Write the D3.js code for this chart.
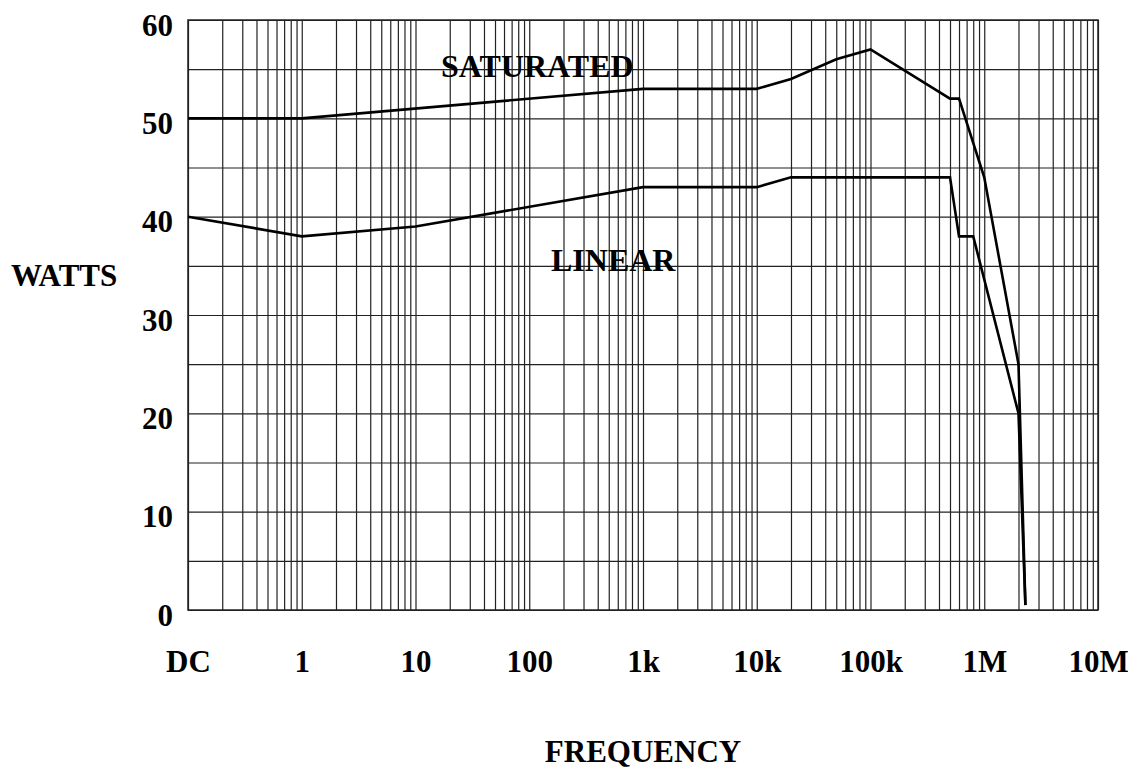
<!DOCTYPE html>
<html>
<head>
<meta charset="utf-8">
<script src="https://cdn.jsdelivr.net/npm/d3@7"></script>
<style>
  body { margin: 0; background: #fff; }
  text { font-family: "Liberation Serif", "Times New Roman", serif; font-weight: bold; fill: #000; }
</style>
</head>
<body>
<div id="chart"></div>
<script>
// frequency (Hz), DC is drawn at 0.1
var satFreq = [0.1, 1, 1000, 10000, 20000, 50000, 100000, 500000, 600000, 1e6, 2e6, 2.3e6];
var satWatts = [50, 50, 53, 53, 54, 56, 57, 52, 52, 44, 25, 0.5];

var linFreq = [0.1, 1, 10, 1000, 10000, 20000, 500000, 600000, 800000, 2e6, 2.3e6];
var linWatts = [40, 38, 39, 43, 43, 44, 44, 38, 38, 20, 0.5];

var xTickValues = [0.1, 1, 10, 100, 1000, 10000, 100000, 1e6, 1e7];
var xTickLabels = ["DC", "1", "10", "100", "1k", "10k", "100k", "1M", "10M"];
var yTickValues = [0, 10, 20, 30, 40, 50, 60];

var svgWidth = 1128;
var svgHeight = 769;

var margin = { top: 20, right: 30, bottom: 159, left: 188 };
var width = svgWidth - margin.left - margin.right;
var height = svgHeight - margin.top - margin.bottom;

var svg = d3.select("#chart")
  .append("svg")
  .attr("width", svgWidth)
  .attr("height", svgHeight)
  .style("background", "#fff");

var chartGroup = svg.append("g")
  .attr("transform", `translate(${margin.left}, ${margin.top})`);

// scales
var xLogScale = d3.scaleLog()
  .domain([0.1, 1e7])
  .range([0, width]);

var yLinearScale = d3.scaleLinear()
  .domain([0, 60])
  .range([height, 0]);

// log grid: 1..9 in every decade
var xGrid = [];
for (var e = -1; e < 7; e++) {
  for (var k = 1; k < 10; k++) {
    xGrid.push(k * Math.pow(10, e));
  }
}
xGrid.push(1e7);

chartGroup.append("g")
  .attr("class", "x-grid")
  .call(d3.axisBottom(xLogScale).tickValues(xGrid).tickSize(height).tickFormat(""))
  .call(g => g.select(".domain").remove())
  .selectAll("line")
  .attr("stroke", "#222")
  .attr("stroke-width", 1.2);

chartGroup.append("g")
  .attr("class", "y-grid")
  .call(d3.axisLeft(yLinearScale).tickValues(d3.range(0, 61, 5)).tickSize(-width).tickFormat(""))
  .call(g => g.select(".domain").remove())
  .selectAll("line")
  .attr("stroke", "#222")
  .attr("stroke-width", 1.2);

// frame
chartGroup.append("rect")
  .attr("width", width)
  .attr("height", height)
  .attr("fill", "none")
  .attr("stroke", "#222")
  .attr("stroke-width", 1.5);

// tick labels
var xAxis = chartGroup.append("g")
  .attr("transform", `translate(0, ${height})`)
  .call(d3.axisBottom(xLogScale)
    .tickValues(xTickValues)
    .tickSize(0)
    .tickPadding(0)
    .tickFormat((d, i) => xTickLabels[i]));
xAxis.select(".domain").remove();
xAxis.selectAll("text")
  .attr("y", 62)
  .attr("dy", 0)
  .style("font-size", "31px")
  .style("font-family", "'Liberation Serif', 'Times New Roman', serif")
  .style("font-weight", "bold");

var yAxis = chartGroup.append("g")
  .call(d3.axisLeft(yLinearScale)
    .tickValues(yTickValues)
    .tickSize(0)
    .tickPadding(15));
yAxis.select(".domain").remove();
yAxis.selectAll("text")
  .attr("dy", 15)
  .style("font-size", "31px")
  .style("font-family", "'Liberation Serif', 'Times New Roman', serif")
  .style("font-weight", "bold");

// curves
var line = d3.line()
  .x(d => xLogScale(d[0]))
  .y(d => yLinearScale(d[1]));

var satData = satFreq.map((f, i) => [f, satWatts[i]]);
var linData = linFreq.map((f, i) => [f, linWatts[i]]);

chartGroup.append("path")
  .datum(satData)
  .attr("d", line)
  .attr("fill", "none")
  .attr("stroke", "#000")
  .attr("stroke-width", 2.6)
  .attr("stroke-linejoin", "miter");

chartGroup.append("path")
  .datum(linData)
  .attr("d", line)
  .attr("fill", "none")
  .attr("stroke", "#000")
  .attr("stroke-width", 2.6)
  .attr("stroke-linejoin", "miter");

// curve labels
svg.append("text")
  .attr("x", 441)
  .attr("y", 77)
  .style("font-size", "32px")
  .text("SATURATED");

svg.append("text")
  .attr("x", 551)
  .attr("y", 271)
  .style("font-size", "32px")
  .text("LINEAR");

// axis titles
svg.append("text")
  .attr("x", 11)
  .attr("y", 286)
  .style("font-size", "31px")
  .text("WATTS");

svg.append("text")
  .attr("x", 643)
  .attr("y", 762)
  .attr("text-anchor", "middle")
  .style("font-size", "31px")
  .text("FREQUENCY");
</script>
</body>
</html>
